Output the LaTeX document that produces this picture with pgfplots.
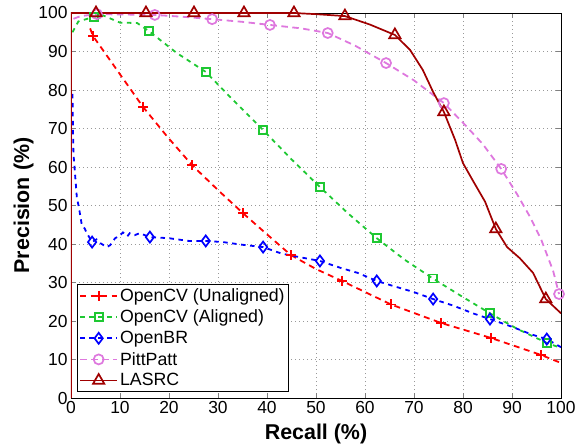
\documentclass[border=0pt]{standalone}
\usepackage{pgfplots}
\pgfplotsset{compat=1.18}
\usepackage{fontspec}
\setmainfont{Liberation Sans}
\usetikzlibrary{calc}
\definecolor{cred}{RGB}{255,0,0}
\definecolor{cgreen}{RGB}{30,200,50}
\definecolor{cblue}{RGB}{0,0,255}
\definecolor{cpink}{RGB}{222,120,222}
\definecolor{cdark}{RGB}{160,0,0}
\begin{document}
\begin{tikzpicture}
\begin{axis}[
  scale only axis,
  width=490bp, height=385bp,
  xmin=0, xmax=100, ymin=0, ymax=100,
  xtick={0,10,...,100}, ytick={0,10,...,100},
  tick align=inside,
  major tick length=5bp,
  grid=major,
  major grid style={dash pattern=on 0.8bp off 3.2bp, gray!80, line width=0.7bp},
  axis line style={line width=0.8bp},
  /pgf/number format/assume math mode=true,
  tick label style={font=\fontsize{17.5}{20}\selectfont},
  xlabel={\textbf{Recall (\%)}},
  ylabel={\textbf{Precision (\%)}},
  label style={font=\fontsize{21.5}{24}\selectfont},
  xlabel style={yshift=-3bp},
  ylabel style={yshift=-2bp},
  legend style={at={(0.012,0.016)}, anchor=south west, draw=black, line width=0.8bp,
    font=\fontsize{17.8}{20}\selectfont, row sep=3bp, inner sep=2bp},
  legend cell align=left,
  legend image code/.code={\draw[mark indices={2}] plot coordinates {(0bp,0bp) (18.5bp,0bp) (37bp,0bp)};},
]
% OpenCV (Unaligned)
\addplot[color=cred, line width=1.8bp, dash pattern=on 6bp off 4.5bp, mark=+, mark size=5bp,
  mark options={solid, line width=1.7bp}, mark indices={2,4,6,8,10,12,13,14,15,16}]
  coordinates {(3.9,96) (4.5,94) (9.6,84.8) (14.7,75.6) (19.7,67.8) (24.7,60.5) (30,54) (35.1,48)
  (40,42.5) (44.9,37.1) (50,33.5) (55.3,30.4) (65.3,24.3) (75.5,19.5) (85.7,15.6) (95.9,11.2) (100,9.1)};
\addlegendentry{OpenCV (Unaligned)}
% OpenCV (Aligned)
\addplot[color=cgreen, line width=1.8bp, dash pattern=on 4.5bp off 4.5bp, mark=square, mark size=4bp,
  mark options={solid, line width=1.7bp}, mark indices={3,7,9,11,13,15,17,19,21}]
  coordinates {(0.3,95) (1.5,97.8) (4.7,99) (6.5,99.4) (10,97.5) (13.5,97.4) (15.9,95.3) (21.6,89.6)
  (27.5,84.7) (33,77.5) (39.2,69.6) (45,62) (50.8,54.8) (56.5,48) (62.4,41.5) (68,36) (73.9,31)
  (80,26.2) (85.5,22) (91,18) (97.1,14.3) (100,13)};
\addlegendentry{OpenCV (Aligned)}
% OpenBR
\addplot[color=cblue, line width=1.8bp, dash pattern=on 4.5bp off 4.5bp, mark=diamond, mark size=5.5bp,
  mark options={solid, line width=1.7bp}, mark indices={9,21,24,27,30,33,36,39,42}]
  coordinates {(0.3,79) (0.4,70) (0.5,63.5) (1.2,52) (1.6,49.6) (2.2,45) (2.8,44) (3.2,42.9)
  (4.3,40.5) (5.2,41.2) (6,40.2) (7.3,39.2) (8,39.7) (9,41.5) (10,42.2) (10.6,43) (11.5,42)
  (12,42.8) (13,42.3) (14,42.8) (16.1,41.8) (20,41.5) (24,40.8) (27.5,40.8) (31,40.5) (35,39.8)
  (39.2,39.2) (43,37.5) (47,36.5) (50.8,35.6) (55,33.8) (58.5,32.5) (62.4,30.4) (66,29) (70,27.5)
  (73.9,25.7) (78,24) (82,22) (85.5,20.5) (90,18.5) (94,16.5) (97.1,15.3) (100,13.2)};
\addlegendentry{OpenBR}
% PittPatt
\addplot[color=cpink, line width=1.8bp, dash pattern=on 6.5bp off 4.5bp, mark=o, mark size=5bp,
  mark options={solid, line width=1.7bp}, mark indices={3,5,7,9,11,13,15,18,23}]
  coordinates {(0.5,98.5) (2,99.2) (5.3,99.7) (11,99.6) (17.1,99.5) (23,99) (28.8,98.4) (35,97.7)
  (40.6,96.9) (47,96) (52.4,94.8) (58,91.5) (64.3,87) (70,82.5) (76.1,76.6) (80,71.5) (84,66)
  (87.8,59.5) (91,53) (93.7,47) (96,41) (98.4,33) (99.6,27)};
\addlegendentry{PittPatt}
% LASRC
\addplot[color=cdark, line width=1.7bp, mark=triangle, mark size=6.5bp,
  mark options={solid, line width=1.7bp}, mark indices={3,4,5,6,7,9,11,15,20,24}]
  coordinates {(0,0) (0,100) (5.1,100) (15.3,100) (25.1,100) (35.3,100) (45.5,100) (50,99.7)
  (55.9,99.2) (61,97) (66.1,94.3) (69.2,90.4) (71.8,85.2) (73.9,79.5) (76.1,74.3) (78.4,67)
  (80,61) (82,56.5) (84.5,51) (86.7,43.9) (89,39.2) (91.6,36.3) (94.3,32.5) (96.9,25.7) (100,22)};
\addlegendentry{LASRC}
\end{axis}
\pgfresetboundingbox
\useasboundingbox ($(current axis.south west)+(-71bp,-46bp)$) rectangle ($(current axis.north east)+(15bp,13bp)$);
\end{tikzpicture}
\end{document}
